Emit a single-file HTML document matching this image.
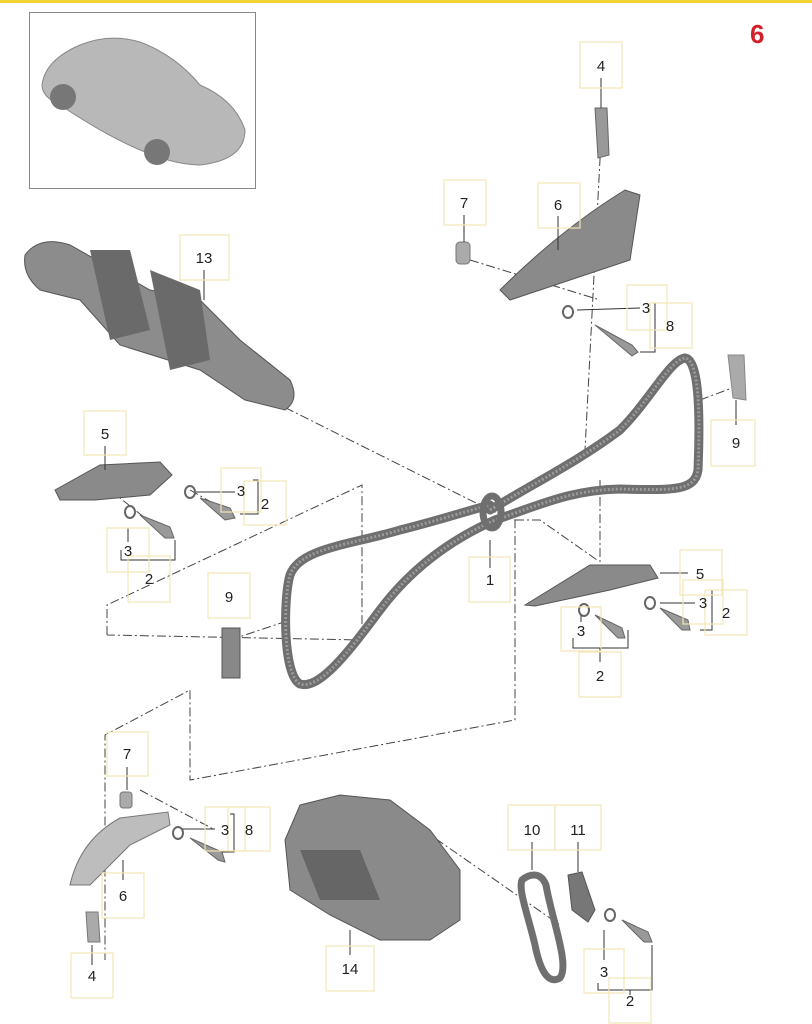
<!DOCTYPE html>
<html><head><meta charset="utf-8"><style>
html,body{margin:0;padding:0;background:#fff;}
svg{display:block}
text{font-family:"Liberation Sans",sans-serif;font-size:15px;fill:#222;}
.b{fill:none;stroke:#f3e6b4;stroke-width:1.2}
.dd{fill:none;stroke:#444;stroke-width:1;stroke-dasharray:9,3,2,3}
.ln{fill:none;stroke:#333;stroke-width:1}
.ch{fill:none;stroke:#6f6f6f;stroke-width:9;stroke-linejoin:round;stroke-linecap:round}
.ch2{fill:none;stroke:#9a9a9a;stroke-width:3;stroke-dasharray:2,2}
.p{fill:#8a8a8a;stroke:#555;stroke-width:1}
</style></head><body>
<svg width="812" height="1024" viewBox="0 0 812 1024">
<rect x="0" y="0" width="812" height="3" fill="#f2d230"/>
<text x="750" y="43" style="font-size:26px;font-weight:bold;fill:#d4202a">6</text>
<!-- car box -->
<rect x="29.5" y="12.5" width="226" height="176" fill="#fff" stroke="#888"/>
<path d="M42,85 Q45,60 80,45 Q110,33 140,42 Q175,55 200,85 Q235,100 245,130 Q245,160 200,165 Q150,165 60,105 Q42,97 42,85Z" fill="#b8b8b8" stroke="#888"/>
<circle cx="63" cy="97" r="13" fill="#777"/><circle cx="157" cy="152" r="13" fill="#777"/>
<!-- dash-dot center lines -->
<path class="dd" d="M601,140 L585,450 M270,400 L490,510 L515,520 L515,720 L190,780 L190,690 L105,735 L105,960 M107,635 L107,605 L362,485 L362,640 L107,635 M470,260 L600,300 M230,640 L290,620 M700,400 L740,385 M515,520 L540,520 L597,560 M600,480 L600,570 M380,800 L560,925 M140,790 L215,830 M110,490 L160,530 M190,490 L225,510"/>
<!-- chain main -->
<path class="ch" d="M490,510 C540,480 580,460 620,430 C650,400 670,360 685,358 C700,360 700,420 698,470 C695,492 670,490 620,489 C570,490 540,505 495,520 C450,540 410,570 380,610 C350,650 320,690 300,684 C283,675 283,600 290,575 C300,548 350,545 400,530 C440,520 470,510 490,505"/>
<path class="ch2" d="M490,510 C540,480 580,460 620,430 C650,400 670,360 685,358 C700,360 700,420 698,470 C695,492 670,490 620,489 C570,490 540,505 495,520 C450,540 410,570 380,610 C350,650 320,690 300,684 C283,675 283,600 290,575 C300,548 350,545 400,530 C440,520 470,510 490,505"/>
<ellipse cx="492" cy="512" rx="9" ry="16" fill="none" stroke="#6f6f6f" stroke-width="7"/>
<!-- small chain 10 -->
<path class="ch" d="M522,880 C528,875 540,870 546,885 C552,920 570,965 560,978 C548,985 540,970 535,945 C528,915 518,890 522,880Z" style="stroke-width:7"/>
<!-- crankshaft -->
<path d="M25,255 Q40,235 70,245 L150,290 L200,300 L240,340 L290,380 Q300,400 285,410 L245,400 L200,370 L120,345 L80,300 L40,290 Q22,275 25,255Z" fill="#8c8c8c" stroke="#555"/>
<path d="M90,250 L130,250 L150,330 L110,340Z M150,270 L200,290 L210,360 L170,370Z" fill="#6a6a6a"/>
<!-- part 4 top -->
<path d="M595,108 L607,108 L609,155 L598,158Z" fill="#999" stroke="#666"/>
<!-- part 6 top -->
<path d="M500,290 Q560,230 625,190 L640,195 L630,260 L570,280 L510,300Z" class="p"/>
<rect x="456" y="242" width="14" height="22" rx="4" fill="#aaa" stroke="#777"/>
<ellipse cx="568" cy="312" rx="5" ry="6" fill="none" stroke="#666" stroke-width="2"/>
<path d="M595,325 L632,345 L638,352 L632,356 Z" fill="#999" stroke="#666"/>
<!-- part 9 right -->
<path d="M728,355 L744,355 L746,400 L733,398Z" fill="#aaa" stroke="#888"/>
<!-- part 5 left -->
<path d="M55,490 L100,465 L160,462 L172,475 L150,495 L95,500 L60,500Z" class="p"/>
<ellipse cx="190" cy="492" rx="5" ry="6" fill="none" stroke="#666" stroke-width="2"/>
<path d="M200,498 L230,508 L235,518 L225,520Z" fill="#999" stroke="#666"/>
<ellipse cx="130" cy="512" rx="5" ry="6" fill="none" stroke="#666" stroke-width="2"/>
<path d="M140,515 L170,527 L174,538 L165,538Z" fill="#999" stroke="#666"/>
<!-- part 9 left -->
<rect x="222" y="628" width="18" height="50" fill="#888" stroke="#555"/>
<!-- part 5 right -->
<path d="M525,605 L590,565 L650,565 L658,578 L610,590 L535,606Z" class="p"/>
<ellipse cx="584" cy="610" rx="5" ry="6" fill="none" stroke="#666" stroke-width="2"/>
<path d="M595,615 L622,628 L625,638 L618,638Z" fill="#999" stroke="#666"/>
<ellipse cx="650" cy="603" rx="5" ry="6" fill="none" stroke="#666" stroke-width="2"/>
<path d="M660,608 L688,620 L690,630 L682,630Z" fill="#999" stroke="#666"/>
<!-- part 7/6/4 bottom left -->
<rect x="120" y="792" width="12" height="16" rx="3" fill="#aaa" stroke="#777"/>
<path d="M70,885 Q80,840 120,818 L168,812 L170,825 L130,845 L90,885Z" fill="#bdbdbd" stroke="#777"/>
<ellipse cx="178" cy="833" rx="5" ry="6" fill="none" stroke="#666" stroke-width="2"/>
<path d="M190,838 L222,852 L225,862 L218,860Z" fill="#999" stroke="#666"/>
<path d="M86,912 L98,912 L100,942 L88,942Z" fill="#aaa" stroke="#777"/>
<!-- pump 14 -->
<path d="M300,805 L340,795 L390,800 L430,830 L460,870 L460,920 L430,940 L380,940 L330,915 L290,890 L285,840Z" fill="#8a8a8a" stroke="#555"/>
<path d="M300,850 L360,850 L380,900 L320,900Z" fill="#666"/>
<!-- part 11 -->
<path d="M568,875 L582,872 L595,910 L588,922 L572,910Z" fill="#777" stroke="#555"/>
<ellipse cx="610" cy="915" rx="5" ry="6" fill="none" stroke="#666" stroke-width="2"/>
<path d="M622,920 L648,932 L652,942 L644,942Z" fill="#999" stroke="#666"/>
<!-- leader lines -->
<path class="ln" d="M601,78 L601,108 M464,215 L464,242 M558,216 L558,250 M577,310 L640,308 M650,303 L655,303 L655,352 L640,352 M204,270 L204,300 M736,425 L736,400 M105,446 L105,470 M196,492 L235,492 M253,480 L258,480 L258,514 L240,514 M128,528 L128,542 M121,550 L121,560 L175,560 L175,540 M149,560 L149,568 M490,540 L490,568 M660,573 L688,573 M660,603 L695,603 M707,590 L712,590 L712,630 L700,630 M581,615 L581,622 M573,638 L573,648 L628,648 L628,630 M600,648 L600,662 M127,767 L127,790 M182,829 L215,829 M230,814 L234,814 L234,852 L222,852 M123,880 L123,860 M92,965 L92,945 M532,842 L532,870 M578,842 L578,872 M350,955 L350,930 M604,960 L604,930 M598,983 L598,990 L652,990 L652,945 M630,990 L630,995"/>
<!-- label boxes -->
<g class="b">
<rect x="580" y="42" width="42" height="46"/><rect x="444" y="180" width="42" height="45"/><rect x="538" y="183" width="42" height="45"/>
<rect x="627" y="285" width="40" height="45"/><rect x="650" y="303" width="42" height="45"/><rect x="180" y="235" width="49" height="45"/>
<rect x="711" y="420" width="44" height="46"/><rect x="84" y="411" width="42" height="44"/><rect x="221" y="468" width="40" height="44"/><rect x="244" y="481" width="42" height="44"/>
<rect x="107" y="528" width="42" height="44"/><rect x="128" y="556" width="42" height="46"/><rect x="469" y="557" width="41" height="45"/><rect x="208" y="573" width="42" height="45"/>
<rect x="680" y="550" width="42" height="45"/><rect x="683" y="580" width="40" height="44"/><rect x="705" y="590" width="42" height="45"/><rect x="561" y="607" width="40" height="44"/><rect x="579" y="652" width="42" height="45"/>
<rect x="107" y="732" width="41" height="44"/><rect x="205" y="807" width="40" height="44"/><rect x="228" y="807" width="42" height="44"/><rect x="102" y="873" width="42" height="45"/><rect x="71" y="953" width="42" height="45"/>
<rect x="508" y="805" width="47" height="45"/><rect x="555" y="805" width="46" height="45"/><rect x="326" y="946" width="48" height="45"/><rect x="584" y="949" width="40" height="44"/><rect x="609" y="978" width="42" height="45"/>
</g>
<g text-anchor="middle">
<text x="601" y="71">4</text><text x="464" y="208">7</text><text x="558" y="210">6</text><text x="646" y="313">3</text><text x="670" y="331">8</text>
<text x="204" y="263">13</text><text x="736" y="448">9</text><text x="105" y="439">5</text><text x="241" y="496">3</text><text x="265" y="509">2</text>
<text x="128" y="556">3</text><text x="149" y="584">2</text><text x="490" y="585">1</text><text x="229" y="602">9</text>
<text x="700" y="579">5</text><text x="703" y="608">3</text><text x="726" y="618">2</text><text x="581" y="636">3</text><text x="600" y="681">2</text>
<text x="127" y="759">7</text><text x="225" y="835">3</text><text x="249" y="835">8</text><text x="123" y="901">6</text><text x="92" y="981">4</text>
<text x="532" y="835">10</text><text x="578" y="835">11</text><text x="350" y="974">14</text><text x="604" y="977">3</text><text x="630" y="1006">2</text>
</g>
</svg>
</body></html>
